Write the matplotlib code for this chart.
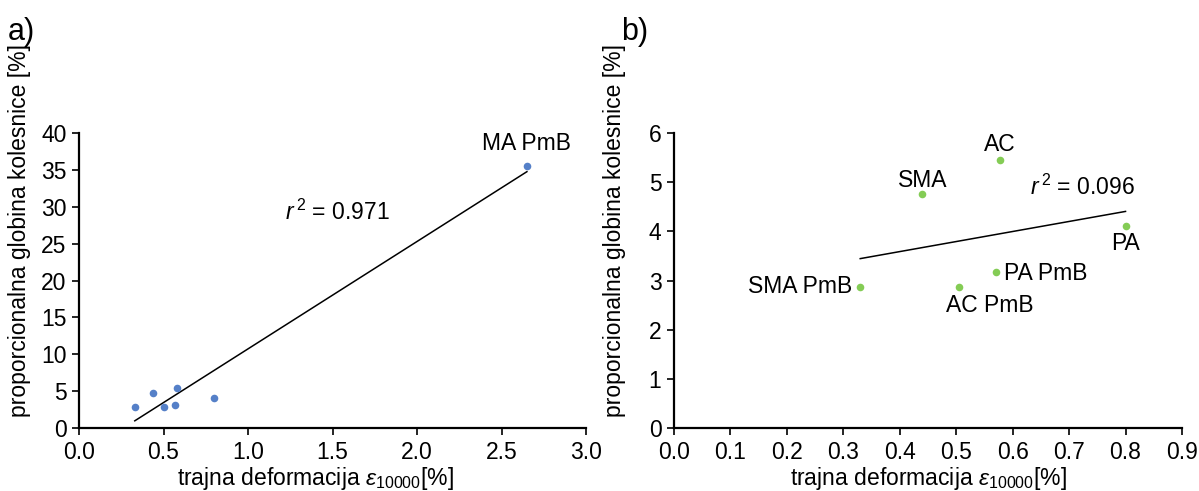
import numpy as np
import matplotlib
matplotlib.use("Agg")
import matplotlib.pyplot as plt

plt.rcParams['font.family'] = ['Liberation Sans', 'DejaVu Sans']
plt.rcParams['mathtext.fontset'] = 'custom'
plt.rcParams['mathtext.rm'] = 'Liberation Sans'
plt.rcParams['mathtext.it'] = 'Liberation Sans:italic'

# data
names = ["SMA PmB", "SMA", "AC PmB", "PA PmB", "AC", "PA"]
strain = [0.33, 0.44, 0.505, 0.57, 0.578, 0.80]
rut = [2.87, 4.75, 2.87, 3.17, 5.45, 4.10]
ma_name = "MA PmB"
ma_strain = 2.65
ma_rut = 35.5

r2_a = "0.971"
r2_b = "0.096"
xticks_a = [0.0, 0.5, 1.0, 1.5, 2.0, 2.5, 3.0]
yticks_a = [0, 5, 10, 15, 20, 25, 30, 35, 40]
xticks_b = [0.0, 0.1, 0.2, 0.3, 0.4, 0.5, 0.6, 0.7, 0.8, 0.9]
yticks_b = [0, 1, 2, 3, 4, 5, 6]

blue = "#5580C8"
green = "#84CC55"
fs = 16.5

fig = plt.figure(figsize=(11.99, 4.91), dpi=100)
axa = fig.add_axes([0.0659, 0.1283, 0.4229, 0.6008])
axb = fig.add_axes([0.5621, 0.1283, 0.4237, 0.6008])

xlabel = r"trajna deformacija $\mathit{\varepsilon}_{10000}$[%]"
ylabel = "proporcionalna globina kolesnice [%]"

def style(ax, xt, yt, xlim, ylim, xlab_x):
    ax.set_xlim(*xlim)
    ax.set_ylim(*ylim)
    ax.set_xticks(xt)
    ax.set_yticks(yt)
    ax.set_xticklabels([f"{v:.1f}" for v in xt])
    ax.set_yticklabels([f"{v:d}" for v in yt])
    for s in ["top", "right"]:
        ax.spines[s].set_visible(False)
    for s in ["left", "bottom"]:
        ax.spines[s].set_linewidth(1.6)
        ax.spines[s].set_color("black")
    ax.tick_params(direction="out", length=5, width=1.2, labelsize=fs, pad=4)
    ax.set_xlabel(xlabel, fontsize=fs)
    ax.set_ylabel(ylabel, fontsize=fs)
    ax.yaxis.set_label_coords(-0.095, 0.668)
    ax.xaxis.set_label_coords(xlab_x, -0.125)
    for lab in ax.get_xticklabels() + ax.get_yticklabels():
        lab.set_clip_on(False)

# panel a
xa = np.array(strain + [ma_strain])
ya = np.array(rut + [ma_rut])
pa = np.polyfit(xa, ya, 1)
lx = np.array([xa.min(), xa.max()])
axa.plot(lx, np.polyval(pa, lx), color="black", lw=1.1, zorder=2)
axa.scatter(xa, ya, s=30, color=blue, zorder=3, clip_on=False, linewidths=0)
axa.text(ma_strain, 37.0, ma_name, fontsize=fs, ha="center", va="bottom")
axa.text(1.22, 29.3, r"$r^{\,2}$ = " + r2_a, fontsize=fs, ha="left", va="center")
style(axa, xticks_a, yticks_a, (0, 3.0), (0, 40), 0.466)

# panel b
xb = np.array(strain)
yb = np.array(rut)
pb = np.polyfit(xb, yb, 1)
lx = np.array([xb.min(), xb.max()])
axb.plot(lx, np.polyval(pb, lx), color="black", lw=1.1, zorder=2)
axb.scatter(xb, yb, s=30, color=green, zorder=3, clip_on=False, linewidths=0)
label_pos = {
    "SMA PmB": (0.316, 2.87, "right", "center"),
    "SMA": (0.441, 5.04, "center", "center"),
    "AC PmB": (0.56, 2.50, "center", "center"),
    "PA PmB": (0.585, 3.15, "left", "center"),
    "AC": (0.578, 5.76, "center", "center"),
    "PA": (0.80, 3.76, "center", "center"),
}
for n in names:
    x, y, ha, va = label_pos[n]
    axb.text(x, y, n, fontsize=fs, ha=ha, va=va)
axb.text(0.631, 4.90, r"$r^{\,2}$ = " + r2_b, fontsize=fs, ha="left", va="center")
style(axb, xticks_b, yticks_b, (0, 0.9), (0, 6), 0.5)

fig.text(8 / 1199, 1 - 32 / 491, "a)", fontsize=22, ha="left", va="center")
fig.text(621 / 1199, 1 - 32 / 491, "b)", fontsize=22, ha="left", va="center")

fig.savefig("out.png", dpi=100)
